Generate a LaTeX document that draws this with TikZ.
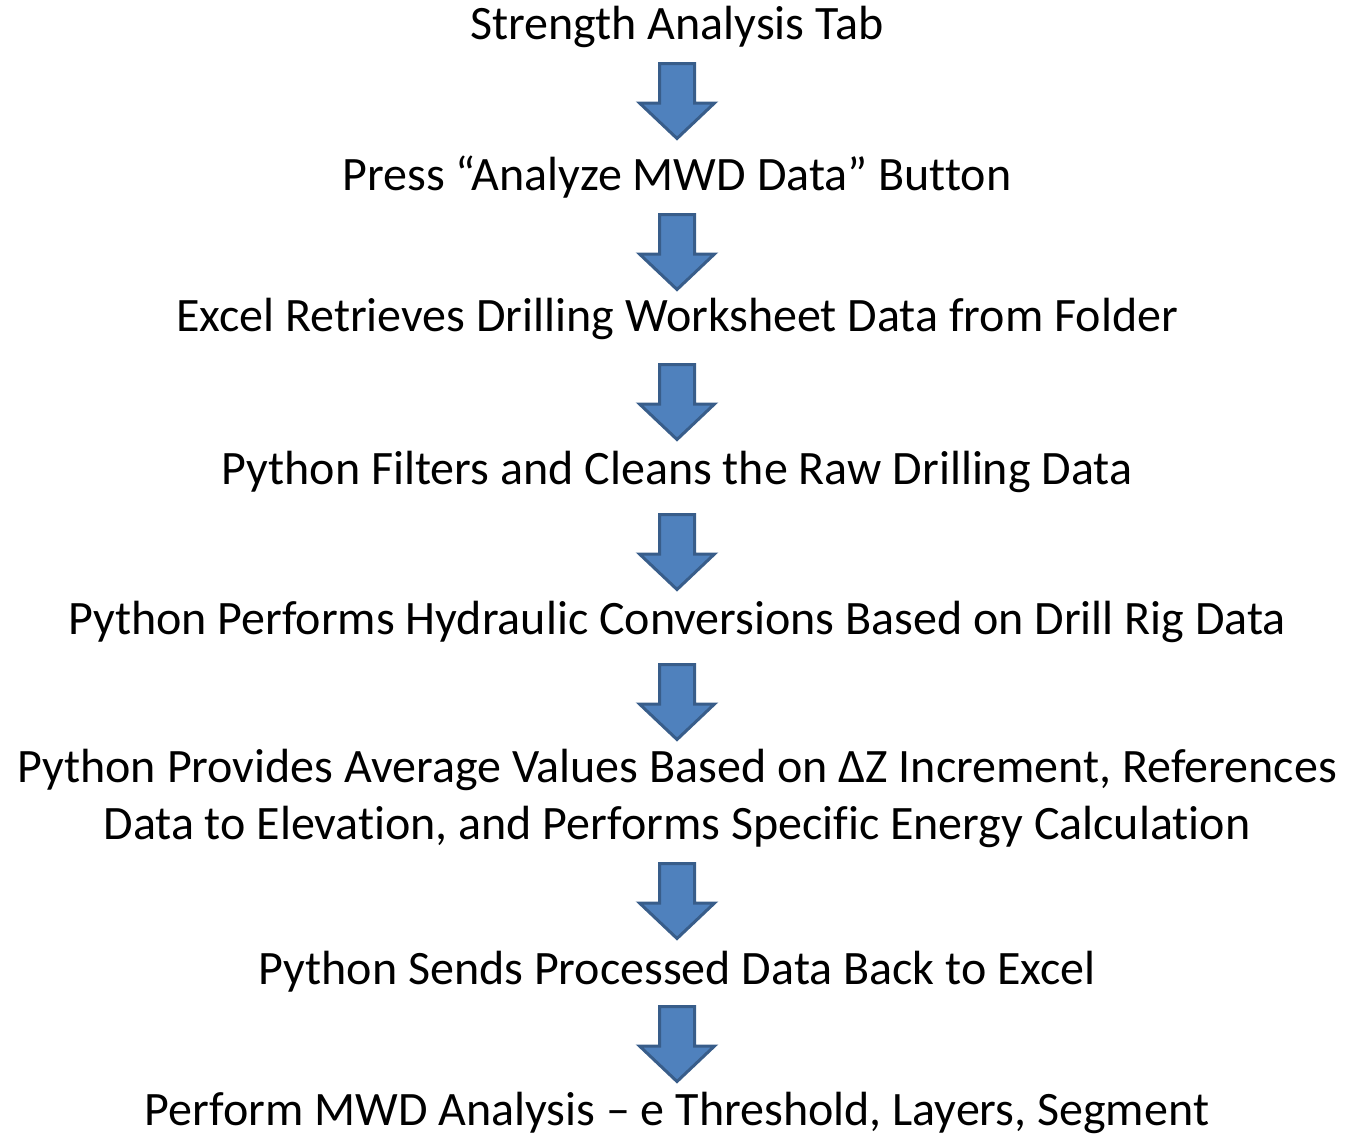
\documentclass[tikz,border=0pt]{standalone}
\usepackage{fontspec}
\setmainfont[Ligatures=NoCommon]{Carlito}
\usepackage{tikz}
\usetikzlibrary{positioning}

\definecolor{arrowfill}{HTML}{4F81BD}
\definecolor{arrowline}{HTML}{385D8A}

\tikzset{
  lbl/.style={anchor=base,inner sep=0pt,font=\fontsize{36}{42.75}\selectfont},
  dnarrow/.pic={
    \draw[fill=arrowfill,draw=arrowline,line width=2.25pt,line join=miter]
      (-17.5,1.5) -- (17.5,1.5) -- (17.5,41) -- (37.5,41) -- (0,76.5)
      -- (-37.5,41) -- (-17.5,41) -- cycle;
  }
}

\begin{document}
\begin{tikzpicture}[x=0.75pt,y=-0.75pt]
  \useasboundingbox (0,0) rectangle (1355,1136);
  % steps
  \node[lbl] (tab)     at (677,39)  {Strength Analysis Tab};
  \node[lbl] (press)   at (677,190) {Press “Analyze MWD Data” Button};
  \node[lbl] (excel)   at (677,331) {Excel Retrieves Drilling Worksheet Data from Folder};
  \node[lbl] (filter)  at (677,484) {Python Filters and Cleans the Raw Drilling Data};
  \node[lbl] (hydro)   at (677,634) {Python Performs Hydraulic Conversions Based on Drill Rig Data};
  \node[lbl,align=center] (avg) at (677,839)
    {Python Provides Average Values Based on ΔZ Increment, References\\
     Data to Elevation, and Performs Specific Energy Calculation};
  \node[lbl] (send)    at (677,984) {Python Sends Processed Data Back to Excel};
  \node[lbl] (mwd)     at (677,1125) {Perform MWD Analysis – e Threshold, Layers, Segment};
  % block arrows
  \pic (a1) at (677,62)   {dnarrow};
  \pic (a2) at (677,213)  {dnarrow};
  \pic (a3) at (677,363)  {dnarrow};
  \pic (a4) at (677,513)  {dnarrow};
  \pic (a5) at (677,663)  {dnarrow};
  \pic (a6) at (677,862)  {dnarrow};
  \pic (a7) at (677,1005) {dnarrow};
\end{tikzpicture}
\end{document}
